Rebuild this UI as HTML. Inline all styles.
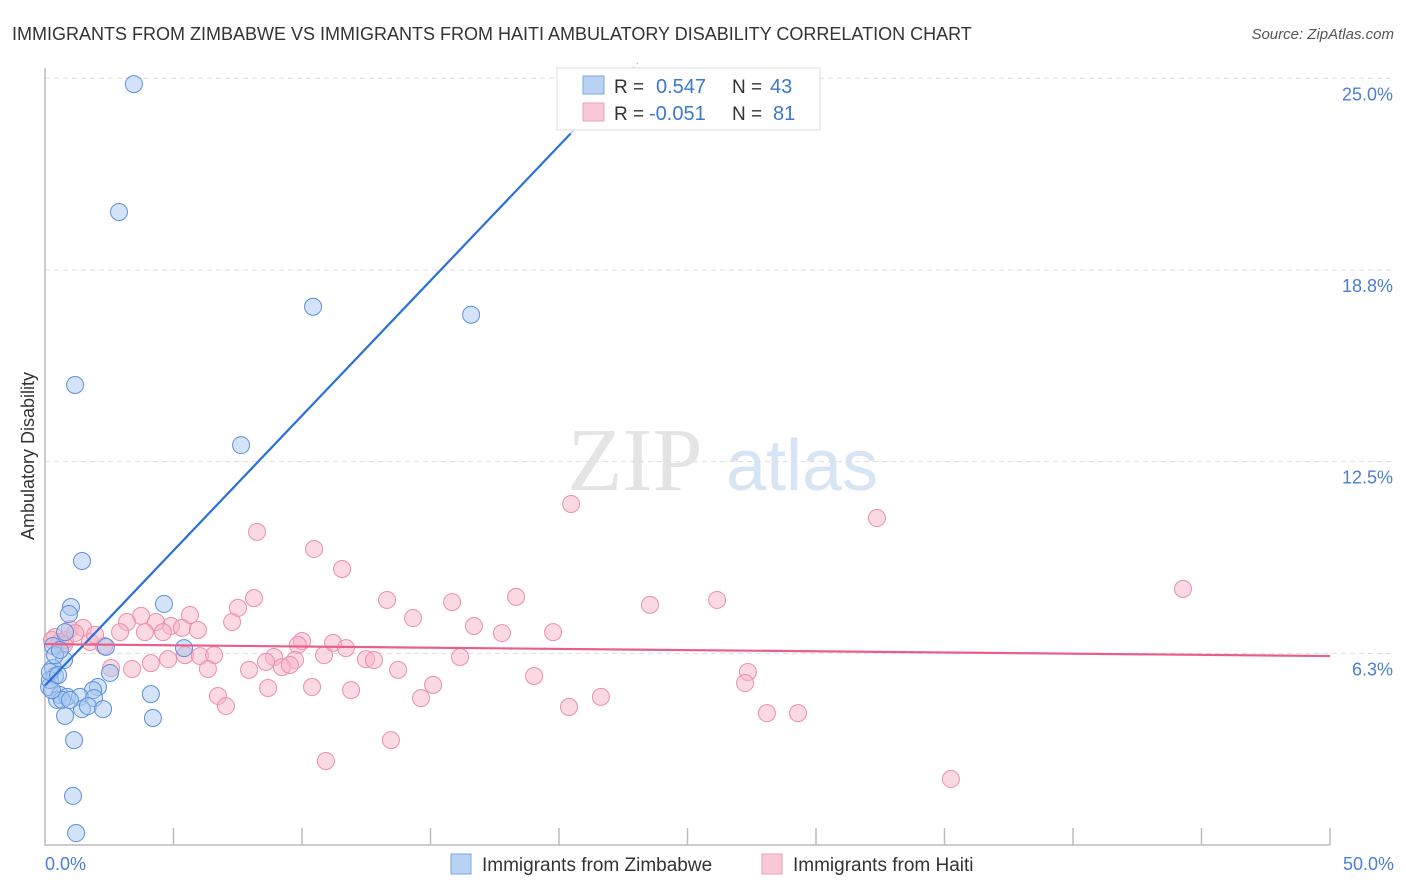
<!DOCTYPE html>
<html><head><meta charset="utf-8"><style>
body{margin:0;background:#fff;width:1406px;height:892px;overflow:hidden;font-family:"Liberation Sans",sans-serif;}
svg{position:absolute;left:0;top:0}
</style></head><body>
<svg width="1406" height="892">
<text x="12" y="40" font-size="18" fill="#333">IMMIGRANTS FROM ZIMBABWE VS IMMIGRANTS FROM HAITI AMBULATORY DISABILITY CORRELATION CHART</text>
<text x="1394" y="39" font-size="15" fill="#555" font-style="italic" text-anchor="end">Source: ZipAtlas.com</text>
<g><text x="635" y="490" font-size="90" fill="#e4e4e4" font-family="Liberation Serif" text-anchor="middle">ZIP</text><text x="802" y="490" font-size="72" fill="#d6e4f4" text-anchor="middle">atlas</text></g>
<g id="grid"></g><g id="axes"></g><g id="marks"></g>
<text transform="translate(34,456) rotate(-90)" font-size="18" fill="#333" text-anchor="middle">Ambulatory Disability</text>
<text x="45" y="870" font-size="18" fill="#4a7fd4">0.0%</text>
<text x="1394" y="870" font-size="18" fill="#4a7fd4" text-anchor="end">50.0%</text>
<g>
<rect x="557" y="68" width="263" height="62" fill="#fff" stroke="#ddd"/>
<rect x="583" y="76" width="21" height="18" fill="#b8d2f4" stroke="#7aa6e0"/>
<rect x="583" y="103" width="21" height="18" fill="#f8c8d6" stroke="#eba0b8"/>
<text x="614" y="93" font-size="19" fill="#333">R =</text><text x="656" y="93" font-size="20" fill="#3a78d0">0.547</text>
<text x="732" y="93" font-size="19" fill="#333">N =</text><text x="770" y="93" font-size="20" fill="#3a78d0">43</text>
<text x="614" y="120" font-size="19" fill="#333">R =</text><text x="649" y="120" font-size="20" fill="#3a78d0">-0.051</text>
<text x="732" y="120" font-size="19" fill="#333">N =</text><text x="773" y="120" font-size="20" fill="#3a78d0">81</text>
</g>
<g>
<rect x="451" y="854" width="20" height="20" fill="#b8d2f4" stroke="#7aa6e0"/>
<text x="482" y="871" font-size="19" fill="#333">Immigrants from Zimbabwe</text>
<rect x="762" y="854" width="20" height="20" fill="#f8c8d6" stroke="#eba0b8"/>
<text x="793" y="871" font-size="19" fill="#333">Immigrants from Haiti</text>
</g>
</svg>
<script>
const yTicks=[6.25,12.5,18.75,25];
const yTickLabels=["6.3%","12.5%","18.8%","25.0%"];
const xTicks=[5,10,15,20,25,30,35,40,45,50];
const zimX=[3.46,2.88,10.43,16.58,1.17,7.63,1.44,4.63,1.01,0.93,0.78,0.31,2.37,5.41,0.74,0.31,0.39,0.16,2.53,2.06,1.87,0.58,0.47,0.86,1.36,1.91,4.12,1.44,1.67,2.26,0.78,4.20,1.13,1.09,1.21,0.19,0.39,0.58,0.19,0.66,0.97,0.27,0.51];
const zimY=[24.81,20.64,17.55,17.29,15.00,13.04,9.26,7.86,7.76,7.53,6.94,6.49,6.46,6.42,6.03,5.77,5.51,5.15,5.61,5.15,5.05,4.89,4.73,4.83,4.83,4.79,4.92,4.43,4.53,4.43,4.21,4.14,3.42,1.60,0.39,5.38,6.19,6.36,5.64,4.73,4.73,5.05,5.54];
const haiX=[8.25,20.47,32.37,44.28,10.47,11.56,8.13,13.31,15.84,18.33,23.54,26.15,7.51,3.74,5.64,14.32,16.69,17.78,19.77,3.19,4.32,4.90,5.33,5.95,7.28,2.92,3.89,4.59,0.97,1.48,0.39,0.78,1.75,2.30,10.00,11.21,9.84,11.71,10.86,5.45,6.03,6.58,8.91,9.73,4.79,4.12,12.49,12.80,16.15,8.60,9.22,9.53,7.94,6.34,3.39,2.57,13.74,19.03,27.35,27.24,15.10,8.68,10.39,11.91,6.73,14.63,21.63,7.04,20.39,28.09,29.30,13.46,10.93,35.25,0.58,1.17,1.95,0.74,0.27];
const haiY=[10.21,11.12,10.66,8.35,9.65,9.00,8.05,7.99,7.92,8.09,7.83,7.99,7.73,7.47,7.50,7.40,7.14,6.91,6.94,7.27,7.27,7.14,7.08,7.01,7.27,6.94,6.94,6.94,7.04,7.08,6.78,6.68,6.62,6.49,6.65,6.59,6.52,6.42,6.19,6.19,6.16,6.19,6.13,6.03,6.06,5.93,6.06,6.03,6.13,5.97,5.80,5.87,5.71,5.74,5.74,5.77,5.71,5.51,5.64,5.28,5.22,5.12,5.15,5.05,4.86,4.79,4.83,4.53,4.50,4.30,4.30,3.42,2.74,2.15,6.62,6.91,6.85,6.52,6.68];
const zimFit=[5.2,0.88];
const haiFit=[6.55,-0.0078];
const X=v=>45+v*25.7, Y=v=>845-v*30.67;
const NS="http://www.w3.org/2000/svg";
function mk(t,a,p){const e=document.createElementNS(NS,t);for(const k in a)e.setAttribute(k,a[k]);p.appendChild(e);return e;}
const grid=document.getElementById('grid'),axes=document.getElementById('axes'),marks=document.getElementById('marks');
yTicks.forEach((t,i)=>{
 const l=mk('line',{x1:45,x2:1393,y1:Y(t),y2:Y(t),stroke:'#ddd','stroke-dasharray':'5,4'},grid);
 
 
 const tx=mk('text',{x:1393,y:Y(t)+22,'font-size':18,fill:'#4a7fd4','text-anchor':'end'},grid);
 tx.textContent=yTickLabels[i];
 
 
});
const ax=mk('path',{d:'M45,68V845H1330',fill:'none',stroke:'#bbb','stroke-width':1.5},axes);


xTicks.forEach(t=>{
 const l=mk('line',{x1:X(t),x2:X(t),y1:828,y2:845,stroke:'#bbb','stroke-width':1.5},axes);
 
 
});
function dots(xs,ys,fill,stroke,name){
 xs.forEach((v,i)=>{
  const c=mk('circle',{cx:X(v),cy:Y(ys[i]),r:8.5,fill:fill,stroke:stroke,'stroke-width':1,'fill-opacity':0.5},marks);
  
  
 });
}
dots(haiX,haiY,'#f6b4c8','#ec8eaa','point-haiti');
dots(zimX,zimY,'#a9c8f0','#5a90dc','point-zimbabwe');
const xEnd=(23.2-zimFit[0])/zimFit[1];
const bl=mk('line',{x1:X(0),y1:Y(zimFit[0]),x2:X(xEnd),y2:Y(zimFit[0]+zimFit[1]*xEnd),stroke:'#2a70d8','stroke-width':2.2},marks);


const xEnd2=(25.5-zimFit[0])/zimFit[1];
const bd=mk('line',{x1:X(xEnd),y1:Y(zimFit[0]+zimFit[1]*xEnd),x2:X(xEnd2),y2:Y(zimFit[0]+zimFit[1]*xEnd2),stroke:'#9bbbe8','stroke-width':1.2,'stroke-dasharray':'4,4'},marks);


const pl=mk('line',{x1:X(0),y1:Y(haiFit[0]),x2:X(50),y2:Y(haiFit[0]+haiFit[1]*50),stroke:'#e8608a','stroke-width':2.2},marks);


</script>
</body></html>
